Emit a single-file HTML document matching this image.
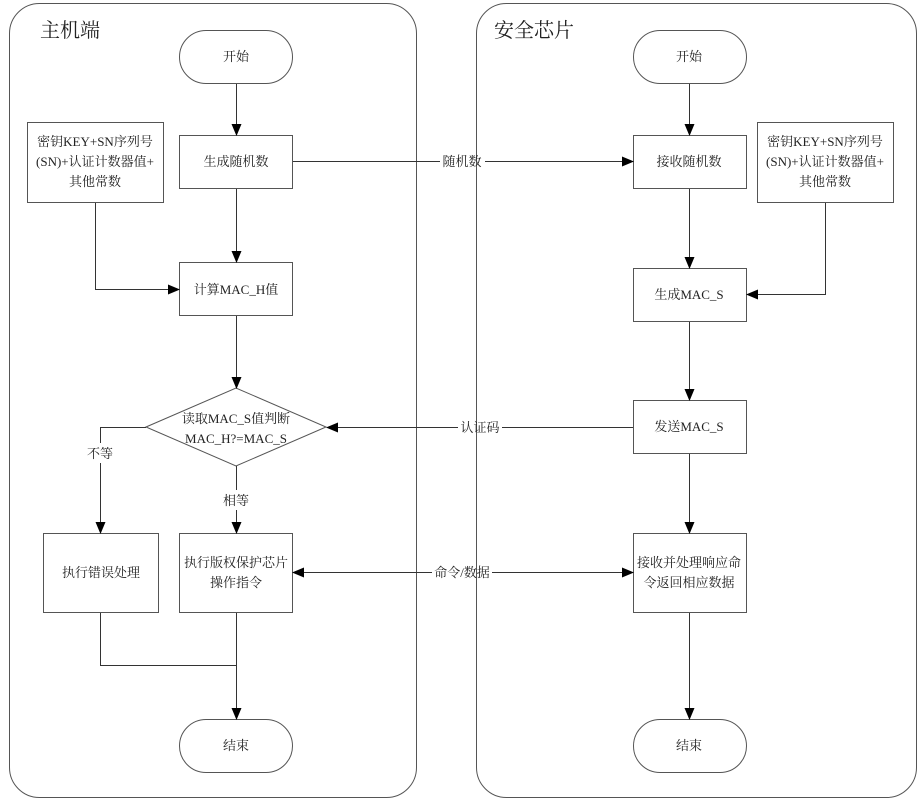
<!DOCTYPE html>
<html><head><meta charset="utf-8"><style>
html,body{margin:0;padding:0;background:#fff;}
svg{display:block;}
text{font-family:"Liberation Serif","Noto Serif CJK SC",serif;font-size:13px;fill:#222;}
</style></head><body>
<svg width="921" height="801" viewBox="0 0 921 801" xmlns="http://www.w3.org/2000/svg">
<defs>
<marker id="a" markerWidth="12" markerHeight="10" refX="11" refY="5" orient="auto" markerUnits="userSpaceOnUse"><path d="M0,0 L12,5 L0,10 z" fill="#000"/></marker>
<marker id="s" markerWidth="12" markerHeight="10" refX="1" refY="5" orient="auto" markerUnits="userSpaceOnUse"><path d="M12,0 L0,5 L12,10 z" fill="#000"/></marker>
</defs>
<g fill="none" stroke="#555" stroke-width="1">
<rect x="9.5" y="3.5" width="407" height="794" rx="30"/>
<rect x="476.5" y="3.5" width="440" height="794" rx="30"/>
</g>
<text x="40" y="37" style="font-size:20px">主机端</text>
<text x="494" y="37" style="font-size:20px">安全芯片</text>
<g fill="#fff" stroke="#555" stroke-width="1">
<rect x="179.5" y="30.5" width="113" height="53" rx="26.5"/>
<rect x="179.5" y="135.5" width="113" height="53"/>
<rect x="27.5" y="122.5" width="136" height="80"/>
<rect x="179.5" y="262.5" width="113" height="53"/>
<polygon points="146,427 236,388 326,427 236,466"/>
<rect x="43.5" y="533.5" width="115" height="79"/>
<rect x="179.5" y="533.5" width="113" height="79"/>
<rect x="179.5" y="719.5" width="113" height="53" rx="26.5"/>
<rect x="633.5" y="30.5" width="113" height="53" rx="26.5"/>
<rect x="633.5" y="135.5" width="113" height="53"/>
<rect x="757.5" y="122.5" width="136" height="80"/>
<rect x="633.5" y="268.5" width="113" height="53"/>
<rect x="633.5" y="400.5" width="113" height="53"/>
<rect x="633.5" y="533.5" width="113" height="79"/>
<rect x="633.5" y="719.5" width="113" height="53" rx="26.5"/>
</g>
<g fill="none" stroke="#333" stroke-width="1">
<line x1="236.5" y1="84" x2="236.5" y2="135" marker-end="url(#a)"/>
<line x1="236.5" y1="189" x2="236.5" y2="262" marker-end="url(#a)"/>
<polyline points="95.5,203 95.5,289.5 179,289.5" marker-end="url(#a)"/>
<line x1="236.5" y1="316" x2="236.5" y2="388" marker-end="url(#a)"/>
<line x1="236.5" y1="466" x2="236.5" y2="490"/>
<line x1="236.5" y1="510" x2="236.5" y2="533" marker-end="url(#a)"/>
<polyline points="146,427.5 100.5,427.5 100.5,443"/>
<line x1="100.5" y1="463" x2="100.5" y2="533" marker-end="url(#a)"/>
<polyline points="100.5,613 100.5,665.5 236,665.5"/>
<line x1="236.5" y1="613" x2="236.5" y2="719" marker-end="url(#a)"/>
<line x1="293" y1="161.5" x2="440" y2="161.5"/>
<line x1="485" y1="161.5" x2="633" y2="161.5" marker-end="url(#a)"/>
<line x1="633" y1="427.5" x2="502" y2="427.5"/>
<line x1="458" y1="427.5" x2="327" y2="427.5" marker-end="url(#a)"/>
<line x1="293" y1="572.5" x2="432" y2="572.5" marker-start="url(#s)"/>
<line x1="492" y1="572.5" x2="633" y2="572.5" marker-end="url(#a)"/>
<line x1="689.5" y1="84" x2="689.5" y2="135" marker-end="url(#a)"/>
<line x1="689.5" y1="189" x2="689.5" y2="268" marker-end="url(#a)"/>
<polyline points="825.5,203 825.5,294.5 747,294.5" marker-end="url(#a)"/>
<line x1="689.5" y1="322" x2="689.5" y2="400" marker-end="url(#a)"/>
<line x1="689.5" y1="454" x2="689.5" y2="533" marker-end="url(#a)"/>
<line x1="689.5" y1="613" x2="689.5" y2="719" marker-end="url(#a)"/>
</g>
<g text-anchor="middle">
<text x="236" y="61">开始</text>
<text x="236" y="166">生成随机数</text>
<text x="95" y="146">密钥KEY+SN序列号</text>
<text x="95" y="166">(SN)+认证计数器值+</text>
<text x="95" y="186">其他常数</text>
<text x="236" y="294">计算MAC_H值</text>
<text x="236" y="423">读取MAC_S值判断</text>
<text x="236" y="443">MAC_H?=MAC_S</text>
<text x="100" y="458">不等</text>
<text x="236" y="505">相等</text>
<text x="101" y="577">执行错误处理</text>
<text x="236" y="567">执行版权保护芯片</text>
<text x="236" y="587">操作指令</text>
<text x="236" y="750">结束</text>
<text x="462" y="166">随机数</text>
<text x="480" y="432">认证码</text>
<text x="462" y="577">命令/数据</text>
<text x="689" y="61">开始</text>
<text x="689" y="166">接收随机数</text>
<text x="825" y="146">密钥KEY+SN序列号</text>
<text x="825" y="166">(SN)+认证计数器值+</text>
<text x="825" y="186">其他常数</text>
<text x="689" y="299">生成MAC_S</text>
<text x="689" y="431">发送MAC_S</text>
<text x="689" y="567">接收并处理响应命</text>
<text x="689" y="587">令返回相应数据</text>
<text x="689" y="750">结束</text>
</g>
</svg>
</body></html>
